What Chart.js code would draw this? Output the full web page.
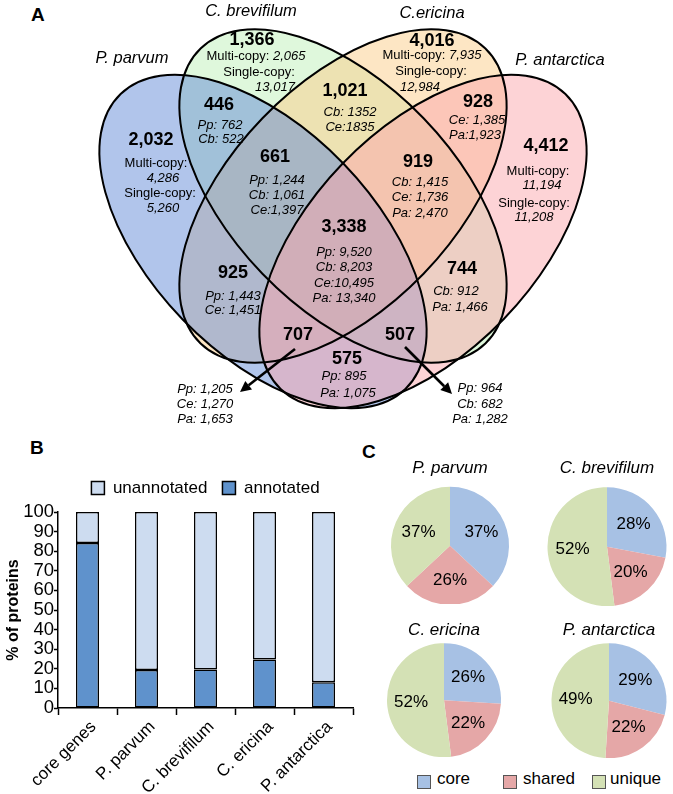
<!DOCTYPE html>
<html><head><meta charset="utf-8">
<script src="https://cdn.jsdelivr.net/npm/chart.js@4/dist/chart.umd.min.js"></script>
<style>
html,body{margin:0;padding:0;background:#fff;}
body{width:673px;height:794px;position:relative;overflow:hidden;font-family:"Liberation Sans",Arial,sans-serif;color:#000;}
.box{position:absolute;}
.panel{position:absolute;font-weight:bold;font-size:19px;line-height:20px;height:20px;}
.lg{position:absolute;font-size:17px;line-height:20px;height:20px;white-space:nowrap;}
.sw{position:absolute;width:12px;height:12px;border:1px solid #555;}
</style></head><body>
<div class="panel" style="left:31px;top:5px">A</div>
<div class="panel" style="left:30px;top:438px">B</div>
<div class="panel" style="left:362px;top:442px">C</div>

<div class="box" style="left:0;top:0;width:673px;height:430px"><canvas id="venn"></canvas></div>
<div class="box" style="left:0;top:430px;width:360px;height:364px"><canvas id="bar"></canvas></div>
<div class="box" id="p0"><canvas id="pie0"></canvas></div>
<div class="box" id="p1"><canvas id="pie1"></canvas></div>
<div class="box" id="p2"><canvas id="pie2"></canvas></div>
<div class="box" id="p3"><canvas id="pie3"></canvas></div>
<div id="pieLegend"></div>

<script>
// ---------------- DATA ----------------
const vennSets = ['P. parvum', 'C. brevifilum', 'C.ericina', 'P. antarctica'];
const vennRegionCounts = [2032, 1366, 4016, 4412, 446, 1021, 928, 661, 919, 3338, 925, 744, 707, 507, 575];
const vennRegionDetails = [
  ['Multi-copy:', '4,286', 'Single-copy:', '5,260'],
  ['Multi-copy: 2,065', 'Single-copy:', '13,017'],
  ['Multi-copy: 7,935', 'Single-copy:', '12,984'],
  ['Multi-copy:', '11,194', 'Single-copy:', '11,208'],
  ['Pp: 762', 'Cb: 522'],
  ['Cb: 1352', 'Ce:1835'],
  ['Ce: 1,385', 'Pa:1,923'],
  ['Pp: 1,244', 'Cb: 1,061', 'Ce:1,397'],
  ['Cb: 1,415', 'Ce: 1,736', 'Pa: 2,470'],
  ['Pp: 9,520', 'Cb: 8,203', 'Ce:10,495', 'Pa: 13,340'],
  ['Pp: 1,443', 'Ce: 1,451'],
  ['Cb: 912', 'Pa: 1,466'],
  ['Pp: 1,205', 'Ce: 1,270', 'Pa: 1,653'],
  ['Pp: 964', 'Cb: 682', 'Pa: 1,282'],
  ['Pp: 895', 'Pa: 1,075']
];

const barCategories = ['core genes', 'P. parvum', 'C. brevifilum', 'C. ericina', 'P. antarctica'];
const annotatedPct = [84.2, 19.4, 19.7, 24.8, 13.1];
const unannotatedPct = [15.8, 80.6, 80.3, 75.2, 86.9];
const barTicks = [0, 10, 20, 30, 40, 50, 60, 70, 80, 90, 100];

const pieSpecies = ['P. parvum', 'C. brevifilum', 'C. ericina', 'P. antarctica'];
const pieCategories = ['core', 'shared', 'unique'];
const pieCore = [37, 28, 26, 29];
const pieShared = [26, 20, 22, 22];
const pieUnique = [37, 52, 52, 49];

// ---------------- LAYOUT / STYLE ----------------
const FONT = '"Liberation Sans", Arial, sans-serif';
const vennEllipses = [ // in chart units (1 unit = 1 px)
  {cx: 263, cy: 241.5, a: 205, b: 112, rot: 46, fill: 'rgba(100,140,215,0.5)'},
  {cx: 343, cy: 196, a: 205, b: 112, rot: 46, fill: 'rgba(191,241,185,0.5)'},
  {cx: 343, cy: 196, a: 205, b: 112, rot: -46, fill: 'rgba(251,205,137,0.5)'},
  {cx: 423, cy: 241.5, a: 205, b: 112, rot: -46, fill: 'rgba(251,167,173,0.5)'}
];
const vennFillOrder = [1, 2, 0, 3];
const vennSetLabelPos = [[132, 58], [251, 11], [432, 13], [560, 60]];
const vennLayout = [
  {c: [151, 140], l: [[156, 163], [163, 178], [160, 193], [163, 208]]},
  {c: [252, 40], l: [[256, 56], [259, 72], [275, 87]]},
  {c: [432, 41], l: [[432, 55], [431, 71], [420, 87]]},
  {c: [546, 146], l: [[538, 171], [542, 185], [534, 203], [534, 217]]},
  {c: [219, 105], l: [[220, 125], [221, 139]]},
  {c: [345, 91], l: [[350, 112], [350, 127]]},
  {c: [478, 102], l: [[477, 120], [475, 135]]},
  {c: [275, 157], l: [[277, 180], [277, 195], [277, 210]]},
  {c: [418, 162], l: [[420, 182], [420, 197], [420, 213]]},
  {c: [344, 227], l: [[344, 252], [344, 267], [344, 283], [344, 298]]},
  {c: [233, 273], l: [[233, 296], [233, 310]]},
  {c: [462, 269], l: [[456, 291], [460, 307]]},
  {c: [298, 335], l: [[205, 389], [205, 404], [205, 419]], arrow: [[295, 349], [240, 392]]},
  {c: [400, 335], l: [[480, 388], [480, 404], [480, 419]], arrow: [[405, 347], [452, 394]]},
  {c: [347, 359], l: [[344, 376], [348, 393]]}
];

// ---------------- VENN ----------------
function fmt(n) { return n.toLocaleString('en-US'); }

function drawMixedLine(ctx, str, x, y) {
  const m = str.match(/^((?:Multi|Single)-copy:)(.*)$/);
  let parts;
  if (m) parts = [[m[1], 'normal'], [m[2], 'italic']];
  else parts = [[str, 'italic']];
  let total = 0;
  parts.forEach(p => { ctx.font = p[1] + ' 13px ' + FONT; p.w = ctx.measureText(p[0]).width; total += p.w; });
  let sx = x - total / 2;
  ctx.textAlign = 'left';
  parts.forEach(p => { ctx.font = p[1] + ' 13px ' + FONT; ctx.fillText(p[0], sx, y); sx += p.w; });
}

const vennPlugin = {
  id: 'vennDraw',
  beforeDatasetsDraw(chart) {
    const {ctx, scales: {x, y}} = chart;
    const shape = e => {
      const px = x.getPixelForValue(e.cx), py = y.getPixelForValue(e.cy);
      const ra = Math.abs(x.getPixelForValue(e.cx + e.a) - px);
      const rb = Math.abs(x.getPixelForValue(e.cx + e.b) - px);
      ctx.beginPath();
      ctx.ellipse(px, py, ra, rb, e.rot * Math.PI / 180, 0, Math.PI * 2);
    };
    ctx.save();
    vennFillOrder.forEach(i => { shape(vennEllipses[i]); ctx.fillStyle = vennEllipses[i].fill; ctx.fill(); });
    ctx.strokeStyle = '#000'; ctx.lineWidth = 2;
    vennEllipses.forEach(e => { shape(e); ctx.stroke(); });
    ctx.restore();
  },
  afterDatasetsDraw(chart) {
    const {ctx, scales: {x, y}} = chart;
    const meta = chart.getDatasetMeta(0);
    ctx.save();
    ctx.fillStyle = '#000';
    ctx.textBaseline = 'middle';
    ctx.font = 'italic 16.5px ' + FONT; ctx.textAlign = 'center';
    vennSets.forEach((s, i) => ctx.fillText(s, x.getPixelForValue(vennSetLabelPos[i][0]), y.getPixelForValue(vennSetLabelPos[i][1])));
    vennRegionCounts.forEach((n, i) => {
      const pt = meta.data[i];
      ctx.font = 'bold 18px ' + FONT; ctx.textAlign = 'center';
      ctx.fillText(fmt(n), pt.x, pt.y);
      vennRegionDetails[i].forEach((d, j) => {
        const p = vennLayout[i].l[j];
        drawMixedLine(ctx, d, x.getPixelForValue(p[0]), y.getPixelForValue(p[1]));
      });
      const ar = vennLayout[i].arrow;
      if (ar) {
        const x0 = x.getPixelForValue(ar[0][0]), y0 = y.getPixelForValue(ar[0][1]);
        const x1 = x.getPixelForValue(ar[1][0]), y1 = y.getPixelForValue(ar[1][1]);
        const ang = Math.atan2(y1 - y0, x1 - x0);
        const hl = 11, hw = 5.5;
        const bx = x1 - Math.cos(ang) * hl, by = y1 - Math.sin(ang) * hl;
        ctx.strokeStyle = '#000'; ctx.lineWidth = 2.6;
        ctx.beginPath(); ctx.moveTo(x0, y0); ctx.lineTo(bx, by); ctx.stroke();
        ctx.beginPath(); ctx.moveTo(x1, y1);
        ctx.lineTo(bx + Math.sin(ang) * hw, by - Math.cos(ang) * hw);
        ctx.lineTo(bx - Math.sin(ang) * hw, by + Math.cos(ang) * hw);
        ctx.closePath(); ctx.fill();
      }
    });
    ctx.restore();
  }
};

new Chart(document.getElementById('venn'), {
  type: 'scatter',
  data: {datasets: [{data: vennLayout.map(l => ({x: l.c[0], y: l.c[1]})), pointRadius: 0, pointHoverRadius: 0}]},
  options: {
    responsive: true, maintainAspectRatio: false, animation: false, events: [],
    layout: {padding: 0},
    plugins: {legend: {display: false}, tooltip: {enabled: false}},
    scales: {
      x: {type: 'linear', min: 0, max: 673, display: false},
      y: {type: 'linear', min: 0, max: 430, reverse: true, display: false}
    }
  },
  plugins: [vennPlugin]
});

// ---------------- BAR ----------------
new Chart(document.getElementById('bar'), {
  type: 'bar',
  data: {
    labels: barCategories,
    datasets: [
      {label: 'annotated', data: annotatedPct, backgroundColor: '#5f92cc', borderColor: '#000', borderWidth: 1.5, borderSkipped: false},
      {label: 'unannotated', data: unannotatedPct, backgroundColor: '#cddcf0', borderColor: '#000', borderWidth: 1.5, borderSkipped: false}
    ]
  },
  options: {
    responsive: true, maintainAspectRatio: false, animation: false, events: [],
    layout: {padding: {top: 34.5, right: 7, left: 0, bottom: 0}},
    datasets: {bar: {categoryPercentage: 1, barPercentage: 0.39}},
    plugins: {
      tooltip: {enabled: false},
      legend: {
        display: true, position: 'top', reverse: true, fullSize: false, weight: 3000,
        labels: {boxWidth: 13, boxHeight: 13, padding: 15, color: '#000', font: {family: FONT, size: 17}}
      },
      title: {display: true, text: '', position: 'top', weight: 500, fullSize: false,
        font: {family: FONT, size: 5, lineHeight: 1.1}, padding: 0}
    },
    scales: {
      x: {
        stacked: true,
        grid: {display: true, drawOnChartArea: false, offset: true, tickLength: 7, color: '#000', tickWidth: 1.5},
        border: {display: true, color: '#000', width: 1.5},
        ticks: {minRotation: 45, maxRotation: 45, color: '#000', font: {family: FONT, size: 17}, padding: 2, labelOffset: 6, autoSkip: false},
        afterFit(s) { s.height = 86; }
      },
      y: {
        stacked: true, min: 0, max: 100,
        afterBuildTicks(s) { s.ticks = barTicks.map(v => ({value: v})); },
        grid: {display: true, drawOnChartArea: false, tickLength: 4, color: '#000', tickWidth: 1.5},
        border: {display: true, color: '#000', width: 1.5},
        ticks: {color: '#000', font: {family: FONT, size: 18.5}, padding: 0, autoSkip: false},
        title: {display: true, text: '% of proteins', color: '#000', font: {family: FONT, size: 16, weight: 'bold'}, padding: {top: 4, bottom: 0}},
        afterFit(s) { s.width = 58; }
      }
    }
  }
});

// ---------------- PIES ----------------
const pieColors = ['#a7c1e4', '#e5a7a7', '#d4e1b5'];
const pieGeom = [ // center x, center y, radius, title center y
  [450, 545.5, 59, 468], [607, 546.5, 59.5, 468], [443.5, 700, 57, 630], [609, 700.5, 57.5, 630]
];
const pieLabelPlugin = {
  id: 'pieLabels',
  afterDatasetsDraw(chart) {
    const ctx = chart.ctx, meta = chart.getDatasetMeta(0);
    ctx.save();
    ctx.font = '17px ' + FONT; ctx.fillStyle = '#000'; ctx.textAlign = 'center'; ctx.textBaseline = 'middle';
    meta.data.forEach((arc, i) => {
      const p = arc.getProps(['x', 'y', 'startAngle', 'endAngle', 'outerRadius'], true);
      const mid = (p.startAngle + p.endAngle) / 2, r = p.outerRadius * 0.58;
      ctx.fillText(chart.data.datasets[0].data[i] + '%', p.x + Math.cos(mid) * r, p.y + Math.sin(mid) * r);
    });
    ctx.restore();
  }
};
pieSpecies.forEach((sp, k) => {
  const [cx, cy, r, ty] = pieGeom[k];
  const W = 160, top = ty - 10.2, pb = cy - r - top - 20.4, H = 20.4 + pb + 2 * r;
  const box = document.getElementById('p' + k);
  box.style.left = (cx - W / 2) + 'px'; box.style.top = top + 'px';
  box.style.width = W + 'px'; box.style.height = H + 'px';
  new Chart(document.getElementById('pie' + k), {
    type: 'pie',
    data: {labels: pieCategories, datasets: [{data: [pieCore[k], pieShared[k], pieUnique[k]], backgroundColor: pieColors, borderWidth: 0}]},
    options: {
      responsive: true, maintainAspectRatio: false, animation: false, events: [],
      layout: {padding: 0},
      plugins: {
        legend: {display: false}, tooltip: {enabled: false},
        title: {display: true, text: sp, color: '#000', font: {family: FONT, size: 17, style: 'italic', weight: 'normal', lineHeight: 1.2}, padding: {top: 0, bottom: pb}}
      }
    },
    plugins: [pieLabelPlugin]
  });
});

// pie legend (HTML)
const legPos = [[417, 437], [503, 523], [592, 610]];
const lg = document.getElementById('pieLegend');
pieCategories.forEach((c, i) => {
  const sw = document.createElement('div');
  sw.className = 'sw'; sw.style.left = legPos[i][0] + 'px'; sw.style.top = '775px'; sw.style.background = pieColors[i];
  lg.appendChild(sw);
  const t = document.createElement('div');
  t.className = 'lg'; t.style.left = legPos[i][1] + 'px'; t.style.top = '769px'; t.textContent = c;
  lg.appendChild(t);
});
</script>
</body></html>
